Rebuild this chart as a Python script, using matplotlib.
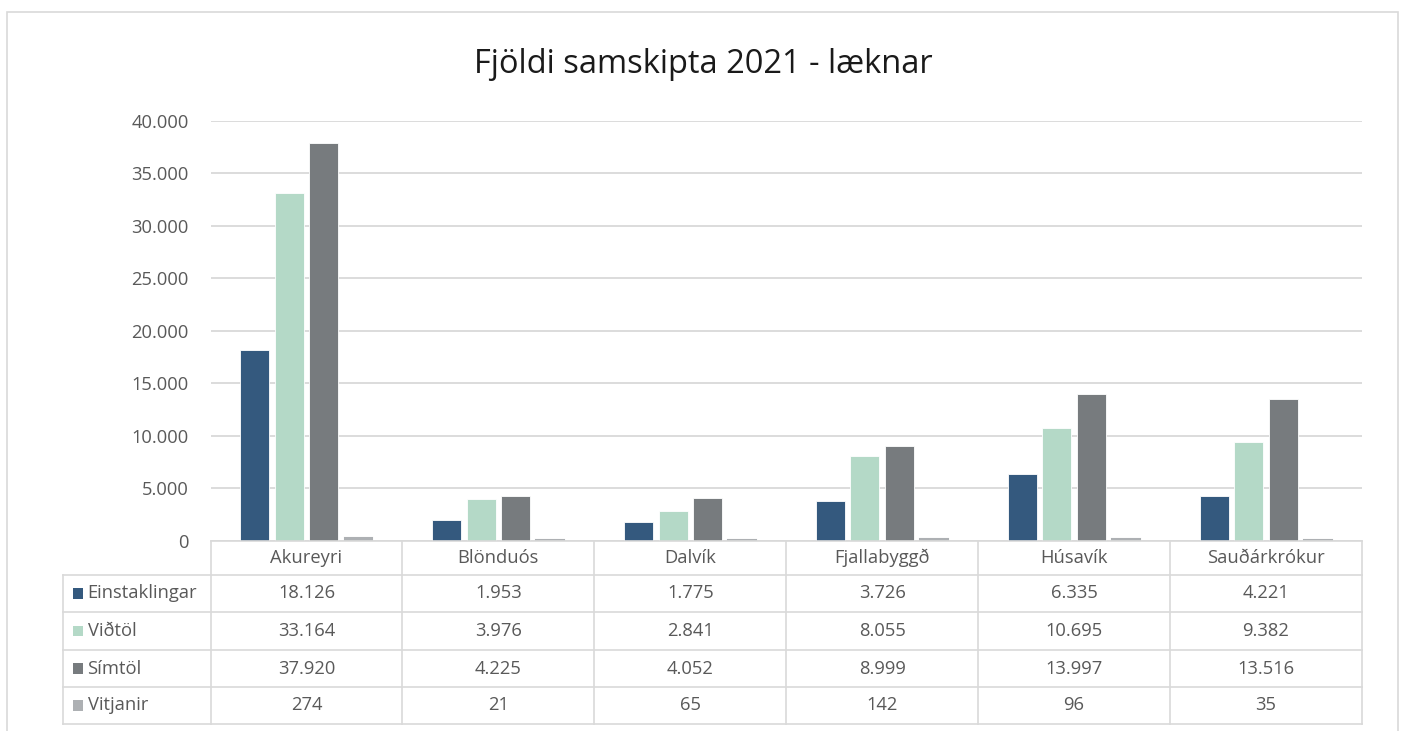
import matplotlib
matplotlib.use("Agg")
import matplotlib.pyplot as plt
from matplotlib.patches import Rectangle
from matplotlib.lines import Line2D
import numpy as np

# ---- data ----
categories = ["Akureyri", "Blönduós", "Dalvík", "Fjallabyggð", "Húsavík", "Sauðárkrókur"]
series_names = ["Einstaklingar", "Viðtöl", "Símtöl", "Vitjanir"]
einstaklingar = [18126, 1953, 1775, 3726, 6335, 4221]
vidtol = [33164, 3976, 2841, 8055, 10695, 9382]
simtol = [37920, 4225, 4052, 8999, 13997, 13516]
vitjanir = [274, 21, 65, 142, 96, 35]
y_ticks = [0, 5000, 10000, 15000, 20000, 25000, 30000, 35000, 40000]
title = "Fjöldi samskipta 2021 - læknar"

series = [einstaklingar, vidtol, simtol, vitjanir]
colors = ["#34597E", "#B4D9C7", "#777B7E", "#ADB0B3"]

def fmt(v):
    return f"{v:,}".replace(",", ".")

plt.rcParams['font.family'] = ['Open Sans', 'DejaVu Sans']

W, H = 1403, 731
fig = plt.figure(figsize=(W / 100, H / 100), dpi=100)
fig.patch.set_facecolor('white')

def fx(px):
    return px / W

def fy(py):
    return 1 - py / H

GRID = '#d9d9d9'
TXT = '#595959'
FS = 13.2

# outer frame
fig.add_artist(Rectangle((fx(7), -0.05), fx(1397.5 - 7), fy(11.5) + 0.05,
                         transform=fig.transFigure, fill=False,
                         edgecolor=GRID, linewidth=1.2))

# title
fig.text(fx(703.5), fy(73), title, ha='center', va='baseline',
         fontsize=23.5, color='#1a1a1a')

# ---- bar axes ----
ax_l, ax_r = 210.5, 1362.0
ax_t, ax_b = 121.0, 540.5
n = len(categories)
ax = fig.add_axes([fx(ax_l), fy(ax_b), fx(ax_r - ax_l), (ax_b - ax_t) / H])
ax.set_xlim(0, n)
ax.set_ylim(0, 40000)
slot = 0.18
bw = 0.151
x = np.arange(n) + 0.5
for i, (vals, c) in enumerate(zip(series, colors)):
    if i == 3:
        ax.bar(x + (i - 1.5) * slot, vals, width=bw - 0.008, color=c,
               edgecolor=c, linewidth=1.5, zorder=3)
    else:
        ax.bar(x + (i - 1.5) * slot, vals, width=bw, color=c,
               edgecolor='white', linewidth=0.6, zorder=3)
ax.set_yticks(y_ticks)
ax.set_yticklabels([fmt(v) for v in y_ticks])
ax.set_xticks([])
ax.yaxis.grid(True, color=GRID, linewidth=1.3)
ax.set_axisbelow(True)
for s in ax.spines.values():
    s.set_visible(False)
ax.tick_params(axis='y', length=0, pad=15.5, labelsize=FS, labelcolor=TXT)

# ---- data table ----
t_l, t_t, t_b = 63.0, 541.0, 724.0
cw = (ax_r - ax_l) / n
x0 = -(ax_l - t_l) / cw
tax = fig.add_axes([fx(t_l), fy(t_b), fx(ax_r - t_l), (t_b - t_t) / H])
tax.set_xlim(x0, n)
tax.set_ylim(t_b, t_t)
tax.axis('off')

rows_y = [541, 575, 612, 650, 687, 724]
lw = 1.2
tax.add_line(Line2D([0, n], [rows_y[0]] * 2, color=GRID, lw=lw, clip_on=False))
for yy in rows_y[1:]:
    tax.add_line(Line2D([x0, n], [yy] * 2, color=GRID, lw=lw, clip_on=False))
tax.add_line(Line2D([x0, x0], [rows_y[1], rows_y[-1]], color=GRID, lw=lw, clip_on=False))
for k in range(n + 1):
    tax.add_line(Line2D([k, k], [rows_y[0], rows_y[-1]], color=GRID, lw=lw, clip_on=False))

for k, cat in enumerate(categories):
    tax.text(k + 0.5, (rows_y[0] + rows_y[1]) / 2, cat, ha='center', va='center',
             fontsize=FS, color=TXT)

sq_x = (73.0 - ax_l) / cw
sq_w = 10.5 / cw
lab_x = (87.5 - ax_l) / cw
for r, (name, vals, c) in enumerate(zip(series_names, series, colors)):
    yc = (rows_y[r + 1] + rows_y[r + 2]) / 2
    tax.add_patch(Rectangle((sq_x, yc - 5.3), sq_w, 10.5, facecolor=c,
                            edgecolor='none', clip_on=False))
    tax.text(lab_x, yc, name, ha='left', va='center', fontsize=FS, color=TXT)
    for k, v in enumerate(vals):
        tax.text(k + 0.5, yc, fmt(v), ha='center', va='center', fontsize=FS, color=TXT)

fig.savefig("out.png", dpi=100, facecolor='white')
